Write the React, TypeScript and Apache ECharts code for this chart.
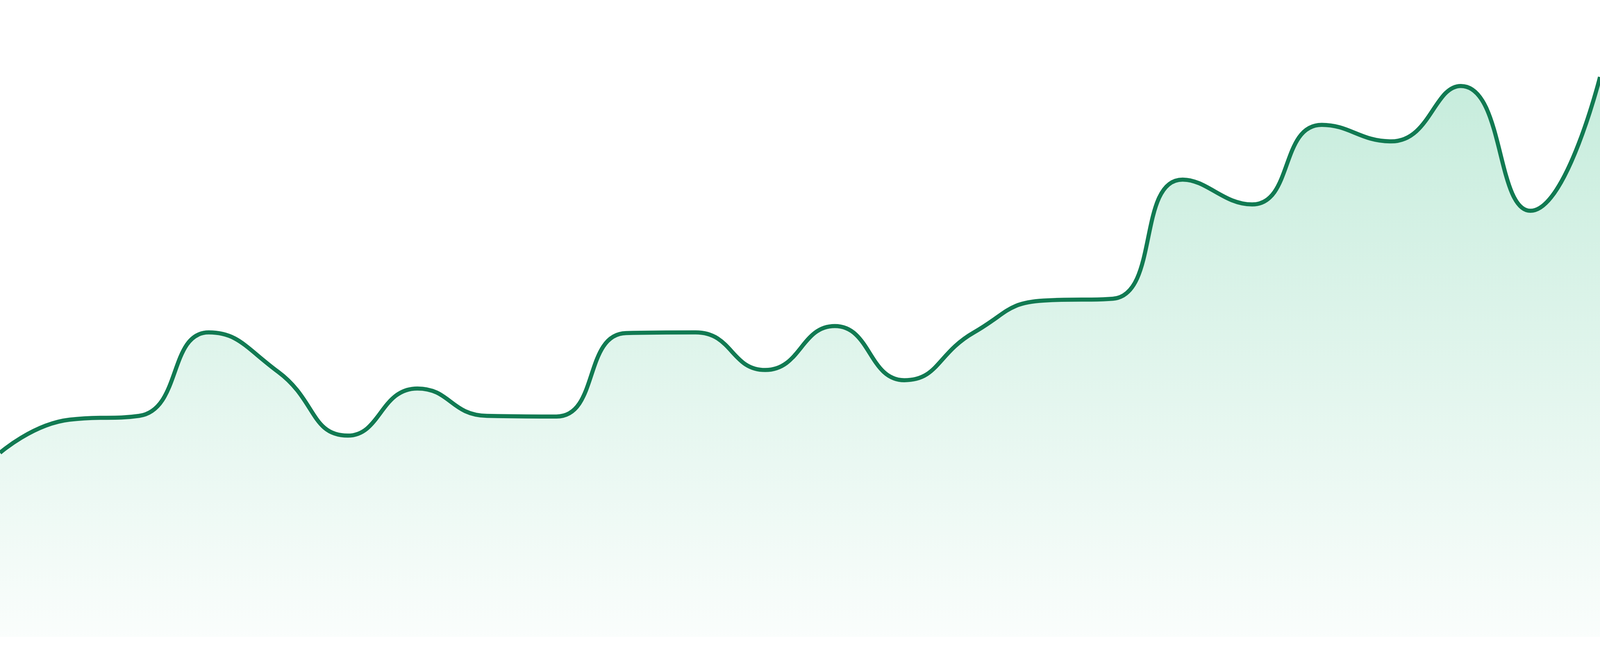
import React, { useEffect, useRef } from "react";
import * as echarts from "echarts";

const categories: string[] = [
  "00:00", "01:00", "02:00", "03:00", "04:00", "05:00", "06:00", "07:00",
  "08:00", "09:00", "10:00", "11:00", "12:00", "13:00", "14:00", "15:00",
  "16:00", "17:00", "18:00", "19:00", "20:00", "21:00", "22:00", "23:00",
];

const values: number[] = [
  28.9, 34.1, 34.7, 47.8, 41.6, 31.6, 39.0, 34.7,
  34.6, 47.7, 47.8, 41.9, 48.8, 40.3, 47.8, 52.8,
  53.1, 71.8, 67.9, 80.4, 77.8, 86.5, 66.9, 87.9,
];

const yMin = 0;
const yMax = 100;

const LINE_COLOR = "#117a52";
const FILL_TOP = "rgba(16,176,108,0.34)";
const FILL_BOTTOM = "rgba(16,176,108,0.03)";

export default function App() {
  const ref = useRef<HTMLDivElement>(null);

  useEffect(() => {
    if (!ref.current) return;
    const el = ref.current;
    const chart = echarts.init(el, undefined, { renderer: "svg" });
    chart.setOption({
      animation: false,
      backgroundColor: "#ffffff",
      grid: { left: 0, right: 0, top: 0, bottom: "2.92%", containLabel: false },
      xAxis: {
        type: "category",
        data: categories,
        boundaryGap: false,
        show: false,
      },
      yAxis: {
        type: "value",
        min: yMin,
        max: yMax,
        show: false,
        splitLine: { show: false },
      },
      series: [
        {
          type: "line",
          data: values,
          smooth: 0.5,
          symbol: "none",
          lineStyle: { color: LINE_COLOR, width: 10.5 },
          areaStyle: {
            color: new echarts.graphic.LinearGradient(0, 0, 0, 1, [
              { offset: 0, color: FILL_TOP },
              { offset: 1, color: FILL_BOTTOM },
            ]),
          },
        },
      ],
    });
    return () => chart.dispose();
  }, []);

  return (
    <div
      ref={ref}
      style={{ position: "fixed", left: 0, top: 0, width: "100vw", height: "100vh" }}
    />
  );
}
